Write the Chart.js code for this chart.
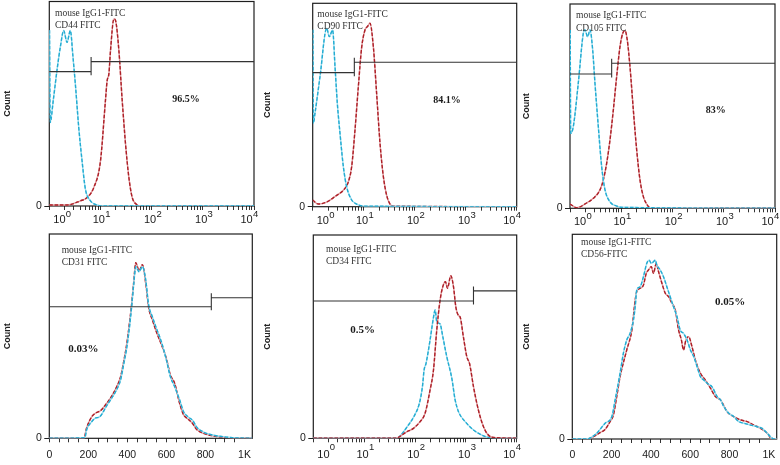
<!DOCTYPE html>
<html><head><meta charset="utf-8">
<script src="https://cdn.jsdelivr.net/npm/chart.js@4.4.1/dist/chart.umd.min.js"></script>
<style>
html,body{margin:0;padding:0;background:#fff;width:780px;height:465px;overflow:hidden;position:relative}
canvas{position:absolute}
</style></head><body>
<canvas id="c1"></canvas><canvas id="c2"></canvas><canvas id="c3"></canvas>
<canvas id="c4"></canvas><canvas id="c5"></canvas><canvas id="c6"></canvas>
<script>
// ---------- data ----------
const logTickExponents = ['0', '1', '2', '3', '4'];
const linTickValues = [0, 200, 400, 600, 800, 1000];
const linTickLabels = ['0', '200', '400', '600', '800', '1K'];
const yTickLabel = '0';

const panelTitles = [
  ['mouse IgG1-FITC', 'CD44 FITC'],
  ['mouse IgG1-FITC', 'CD90 FITC'],
  ['mouse IgG1-FITC', 'CD105 FITC'],
  ['mouse IgG1-FITC', 'CD31 FITC'],
  ['mouse IgG1-FITC', 'CD34 FITC'],
  ['mouse IgG1-FITC', 'CD56-FITC']
];
const percentLabels = ['96.5%', '84.1%', '83%', '0.03%', '0.5%', '0.05%'];

const gateX = [6.56, 6.55, 6.5, 830, 1413, null];
const gateLeftY = [65.7, 65.9, 65.7, 64.4, 67.5, null];
const gateRightY = [70.6, 71, 71, 68.8, 72.5, null];

// CD44 (log axis)
const cd44IsoX = [1.01, 1.04, 1.2, 1.41, 1.65, 1.91, 2.22, 2.58, 2.9, 3.24, 3.76, 4.37, 5.08, 6.37, 8.6, 10, 10000];
const cd44IsoY = [86, 40.8, 52, 66.2, 78, 85.8, 80, 85.8, 73, 59.2, 38.4, 22, 8.2, 2.5, 0.5, 0, 0];
const cd44PosX = [1, 2.22, 4.05, 5.48, 7.4, 10, 12.5, 13.5, 14.6, 15.7, 18.3, 19.7, 22.9, 26.6, 30.9, 35.9, 41.8, 52.4, 60.8, 10000];
const cd44PosY = [0.5, 0.5, 2.5, 4.1, 9.0, 22, 51.5, 61.3, 64.6, 76, 91.5, 90.7, 76, 51.5, 30.2, 13.9, 4.1, 0.5, 0, 0];

// CD90 (log axis)
const cd90IsoX = [1.01, 1.03, 1.11, 1.39, 1.88, 2.12, 2.46, 2.74, 3.04, 3.43, 3.99, 4.63, 5.81, 7.28, 9.84, 10000];
const cd90IsoY = [87, 41, 46, 63.9, 87.7, 83.6, 86.9, 68.8, 50.8, 36.1, 19.7, 9.8, 3.3, 1.3, 0.3, 0];
const cd90PosX = [1, 1.29, 1.88, 2.95, 3.99, 5.0, 5.81, 6.75, 7.85, 9.12, 10.6, 11.8, 13.3, 15.5, 18, 20.9, 24.3, 28.2, 32.8, 38.1, 10000];
const cd90PosY = [3.3, 1.3, 2.3, 5.6, 8.1, 12.2, 19.7, 37.7, 59, 78.3, 86.9, 88.5, 90.2, 78.3, 55, 31.1, 14.8, 5.6, 1.3, 0.3, 0];

// CD105 (log axis)
const cd105IsoX = [1.01, 1.03, 1.16, 1.45, 1.82, 1.96, 2.21, 2.46, 2.77, 3.07, 3.57, 4.15, 4.82, 6.03, 8.14, 9.46, 10000];
const cd105IsoY = [87.3, 36.7, 40, 61.2, 85.7, 87.3, 84, 87.3, 77.5, 61.2, 39.9, 20.4, 9, 3.2, 1.1, 0.5, 0];
const cd105PosX = [1, 1.35, 2.11, 2.85, 3.85, 4.47, 5.19, 6.03, 7.01, 8.14, 9.46, 10.7, 11.8, 13.1, 14.8, 17.2, 20, 23.2, 27, 31.3, 36.4, 10000];
const cd105PosY = [2.1, 0.3, 2.6, 4.9, 9, 13.9, 22, 33.5, 48.2, 64.5, 79.2, 85.7, 87, 82.4, 69.4, 48.2, 28.6, 13.9, 5.7, 2.1, 0.3, 0];

// CD31 (linear axis)
const cd31IsoX = [0, 182, 191, 217, 234, 259, 293, 319, 344, 365, 382, 395, 409, 421, 433, 443, 460, 477, 494, 509, 528, 549, 574, 600, 620, 642, 668, 688, 710, 736, 753, 787, 838, 889, 940, 1040];
const cd31IsoY = [0, 0.3, 4.1, 8.1, 9.8, 10.6, 15.8, 19.6, 23.6, 28.5, 36.7, 43.2, 53, 63.6, 75.9, 84, 81.5, 84, 77.5, 65.2, 59.5, 53.8, 47.3, 38.3, 30.2, 25.3, 18.7, 13, 10.6, 8.6, 5.7, 3.2, 1.6, 0.8, 0.3, 0];
const cd31PosX = [0, 178, 191, 217, 240, 262, 293, 319, 344, 365, 382, 395, 409, 421, 433, 443, 460, 477, 494, 509, 528, 549, 574, 600, 620, 642, 668, 688, 710, 736, 753, 787, 838, 889, 940, 1040];
const cd31PosY = [0, 0, 5, 10.5, 12.5, 13.5, 17, 20.5, 25, 30, 38, 45, 55, 65, 77, 86, 82, 85, 76, 64, 58, 52, 46, 39, 31, 27, 17, 11.5, 9.5, 7, 4.5, 2.5, 1.2, 0.5, 0, 0];

// CD34 (log axis)
const cd34IsoX = [1, 43.8, 54.9, 68.9, 93.1, 122, 140, 151, 165, 198, 231, 249, 268, 312, 352, 422, 530, 615, 716, 969, 1413, 2063, 3008, 10000];
const cd34IsoY = [0, 0, 2.1, 5.4, 10.3, 17.2, 25.4, 33.6, 36.9, 48.4, 59.5, 63.1, 57.4, 56.2, 50, 40.1, 29.5, 18.9, 13.1, 8.2, 4.1, 1.6, 0.3, 0];
const cd34PosX = [1, 40.6, 68.9, 93.1, 126, 158, 198, 231, 268, 312, 352, 397, 435, 506, 571, 635, 716, 772, 898, 1045, 1179, 1413, 1644, 1912, 2224, 2586, 3245, 10000];
const cd34PosY = [0, 0, 3.2, 4.9, 8.2, 12.3, 23.8, 33.6, 53.3, 68.1, 74.6, 77, 73.8, 80, 74.6, 64.7, 60.4, 59.6, 49.6, 40.1, 36.9, 25.4, 17.2, 10.6, 5.7, 2.5, 0.5, 0];

// CD56 (linear axis)
const cd56IsoX = [0, 73, 124, 167, 201, 218, 243, 260, 277, 294, 311, 320, 328, 345, 362, 379, 391, 402, 413, 422, 430, 447, 464, 481, 498, 515, 533, 549, 566, 584, 601, 618, 635, 652, 669, 686, 711, 737, 754, 771, 796, 822, 847, 873, 907, 941, 966, 992, 1009, 1026, 1040];
const cd56IsoY = [0, 0, 2.8, 7.7, 10.9, 19.1, 32.1, 41.9, 48.4, 51.6, 58.1, 64.6, 72.8, 74.4, 79.3, 85.8, 87.4, 85.8, 86.6, 87.4, 85, 82.6, 79.3, 74.4, 69.5, 64.6, 59.7, 53.2, 51.6, 48.4, 43.5, 40.2, 35.3, 30.4, 28.8, 27.2, 25.5, 20.7, 19.1, 15.8, 12.6, 10.9, 8.5, 7.7, 6.8, 6, 5.2, 2.8, 1, 0, 0];
const cd56PosX = [0, 73, 141, 167, 192, 209, 226, 243, 277, 303, 320, 328, 345, 362, 376, 388, 402, 413, 427, 439, 456, 473, 490, 507, 524, 541, 555, 566, 578, 592, 609, 626, 652, 677, 703, 728, 754, 788, 822, 856, 890, 924, 958, 992, 1017, 1040];
const cd56PosY = [0, 0, 3.1, 4.7, 8.5, 11.7, 20.7, 30.4, 43.5, 53.2, 67.9, 72, 73.6, 75.2, 80.9, 82.6, 84.2, 80.9, 85.8, 81.7, 76.1, 71.2, 69.5, 66.3, 63, 53.2, 48.4, 43.5, 48.4, 50, 45.1, 38.6, 32.1, 28.8, 24.8, 20.7, 19.1, 13.3, 10.9, 9.3, 8.5, 6.8, 5.2, 2.8, 0, 0];

// ---------- layout / style ----------
const ISO_COLOR = '#22acd2';
const ISO_LIGHT = '#9fdcee';
const POS_COLOR = '#ad1f27';
const POS_LIGHT = '#df9a9d';
const SANS = '"Liberation Sans", Arial, sans-serif';
const SERIF = '"Liberation Serif", "Times New Roman", serif';

const panels = [
  {id:'c1', left:0,   top:0,   w:260, h:232, area:[49.3,1.5,254,206],   log:true,  iso:[cd44IsoX,cd44IsoY],   pos:[cd44PosX,cd44PosY],   isoTop:true,
   titleAt:[55,13.5,25],   pctAt:[186,99],   pctSize:10, baseDy:14, expDy:8.5},
  {id:'c2', left:260, top:0,   w:262, h:232, area:[52.7,3.3,256.7,206.7], log:true, iso:[cd90IsoX,cd90IsoY],   pos:[cd90PosX,cd90PosY],   isoTop:true,
   titleAt:[57.3,14,26.7], pctAt:[187,100],  pctSize:10, baseDy:14, expDy:8.5},
  {id:'c3', left:519, top:0,   w:261, h:232, area:[51,4,256,208.3],     log:true,  iso:[cd105IsoX,cd105IsoY], pos:[cd105PosX,cd105PosY], isoTop:true,
   titleAt:[57,15,28.3],   pctAt:[196.7,110],pctSize:10, baseDy:14, expDy:8.5},
  {id:'c4', left:0,   top:230, w:260, h:235, area:[49.3,4,252.3,208.3], log:false, iso:[cd31IsoX,cd31IsoY],   pos:[cd31PosX,cd31PosY],   isoTop:true,
   titleAt:[61.7,20,32.3], pctAt:[83.3,119], pctSize:11, baseDy:16.5, expDy:9.5},
  {id:'c5', left:260, top:230, w:262, h:235, area:[53.3,5,256.7,208.3], log:true,  iso:[cd34IsoX,cd34IsoY],   pos:[cd34PosX,cd34PosY],   isoTop:false,
   titleAt:[66,19.3,31],   pctAt:[102.7,100],pctSize:11, baseDy:16.5, expDy:9.5},
  {id:'c6', left:519, top:230, w:261, h:235, area:[53.3,4.3,257.7,209], log:false, iso:[cd56IsoX,cd56IsoY],   pos:[cd56PosX,cd56PosY],   isoTop:true,
   titleAt:[62,12.7,24],   pctAt:[211,71.7], pctSize:11, baseDy:16.5, expDy:9.5}
];

const decoPlugin = {
  id: 'deco',
  beforeDatasetsDraw(chart) {
    const {ctx, chartArea: a} = chart;
    ctx.save();
    ctx.strokeStyle = '#1e1e1e';
    ctx.lineWidth = 1.2;
    ctx.strokeRect(a.left, a.top, a.right - a.left, a.bottom - a.top);
    ctx.restore();
  },
  afterDatasetsDraw(chart, args, o) {
    const {ctx, chartArea: a, scales: {x, y}} = chart;
    const i = o.index, p = panels[i];
    ctx.save();
    if (gateX[i] !== null) {
      const gx = x.getPixelForValue(gateX[i]);
      const yl = y.getPixelForValue(gateLeftY[i]);
      const yr = y.getPixelForValue(gateRightY[i]);
      ctx.strokeStyle = '#333';
      ctx.lineWidth = 1.1;
      ctx.beginPath();
      ctx.moveTo(a.left, yl); ctx.lineTo(gx, yl);
      ctx.moveTo(gx, yr); ctx.lineTo(a.right, yr);
      ctx.moveTo(gx, yr - 4.5); ctx.lineTo(gx, yl + 3.5);
      ctx.stroke();
    }
    ctx.fillStyle = '#333';
    ctx.textBaseline = 'middle';
    ctx.textAlign = 'left';
    ctx.font = '9.5px ' + SERIF;
    ctx.fillText(panelTitles[i][0], p.titleAt[0], p.titleAt[1]);
    ctx.fillText(panelTitles[i][1], p.titleAt[0], p.titleAt[2]);
    ctx.fillStyle = '#1a1a1a';
    ctx.textAlign = 'center';
    ctx.font = 'bold ' + p.pctSize + 'px ' + SERIF;
    ctx.fillText(percentLabels[i], p.pctAt[0], p.pctAt[1]);
    ctx.fillStyle = '#1a1a1a';
    if (p.log) {
      logTickExponents.forEach(e => {
        const px = x.getPixelForValue(Math.pow(10, Number(e)));
        ctx.font = '11px ' + SANS;
        const wb = ctx.measureText('10').width;
        ctx.font = '9.5px ' + SANS;
        const we = ctx.measureText(e).width;
        let lft = px + 1 - (wb + we) / 2;
        lft = Math.max(lft, a.left + 4);
        lft = Math.min(lft, a.right + 4 - wb - we);
        ctx.textAlign = 'left';
        ctx.font = '11px ' + SANS;
        ctx.fillText('10', lft, a.bottom + p.baseDy);
        ctx.font = '9.5px ' + SANS;
        ctx.fillText(e, lft + wb + 0.3, a.bottom + p.expDy);
      });
    } else {
      ctx.font = '10.5px ' + SANS;
      ctx.textAlign = 'center';
      linTickValues.forEach((v, k) => {
        ctx.fillText(linTickLabels[k], x.getPixelForValue(v), a.bottom + p.baseDy);
      });
    }
    ctx.font = '10.5px ' + SANS;
    ctx.textAlign = 'right';
    ctx.fillText(yTickLabel, a.left - 7.5, y.getPixelForValue(0));
    ctx.restore();
  }
};

function toPoints(xs, ys) { return xs.map((v, k) => ({x: v, y: ys[k]})); }

function logMinorTicks() {
  const t = [];
  logTickExponents.forEach(e => {
    const base = Math.pow(10, Number(e));
    if (Number(e) < 4) { for (let m = 1; m <= 9; m++) t.push({value: m * base, major: m === 1}); }
    else t.push({value: base, major: true});
  });
  return t;
}

panels.forEach((p, i) => {
  const cv = document.getElementById(p.id);
  cv.width = p.w; cv.height = p.h;
  cv.style.left = p.left + 'px'; cv.style.top = p.top + 'px';
  cv.style.width = p.w + 'px'; cv.style.height = p.h + 'px';
  const [L, T, R, B] = p.area;
  const base = {pointRadius: 0, fill: false, tension: 0.35, cubicInterpolationMode: 'monotone'};
  const isoData = toPoints(p.iso[0], p.iso[1]);
  const posData = toPoints(p.pos[0], p.pos[1]);
  const topIso = p.isoTop;
  const datasets = [
    Object.assign({label: 'isotype', data: isoData, borderColor: ISO_COLOR, borderWidth: 1.4, borderDash: [3.5, 1.8], order: topIso ? 0 : 2}, base),
    Object.assign({label: 'isotype-under', data: isoData, borderColor: ISO_LIGHT, borderWidth: 1.4, order: topIso ? 1 : 3}, base),
    Object.assign({label: 'marker', data: posData, borderColor: POS_COLOR, borderWidth: 1.4, borderDash: [3.5, 1.8], order: topIso ? 2 : 0}, base),
    Object.assign({label: 'marker-under', data: posData, borderColor: POS_LIGHT, borderWidth: 1.4, order: topIso ? 3 : 1}, base)
  ];
  const xScale = p.log ? {
      type: 'logarithmic', min: 1, max: 10000,
      afterBuildTicks: s => { s.ticks = logMinorTicks(); }
    } : {
      type: 'linear', min: 0, max: 1040,
      ticks: {stepSize: 50},
      afterBuildTicks: s => { s.ticks = s.ticks.filter(t => t.value % 50 === 0); }
    };
  Object.assign(xScale, {
    position: 'bottom',
    border: {display: false},
    grid: {display: true, drawOnChartArea: false, drawTicks: true, tickLength: 4, tickColor: '#333', lineWidth: 1},
    afterFit: s => { s.height = p.h - B; }
  });
  xScale.ticks = Object.assign({}, xScale.ticks || {}, {display: false});
  new Chart(cv, {
    type: 'line',
    data: {datasets: datasets},
    plugins: [decoPlugin],
    options: {
      responsive: false,
      devicePixelRatio: 1,
      animation: false,
      layout: {padding: {left: 0, top: T, right: p.w - R, bottom: 0}},
      plugins: {legend: {display: false}, tooltip: {enabled: false}, deco: {index: i}},
      scales: {
        x: xScale,
        y: {
          type: 'linear', min: 0, max: 100,
          border: {display: false},
          grid: {display: true, drawOnChartArea: false, drawTicks: true, tickLength: 5, tickColor: '#222', lineWidth: 1},
          ticks: {display: false},
          afterBuildTicks: s => { s.ticks = [{value: 0}]; },
          title: {display: true, text: 'Count', color: '#222', font: {family: SANS, size: 9, weight: 'bold'}, padding: {top: 2, bottom: 0}},
          afterFit: s => { s.width = L; }
        }
      }
    }
  });
});
</script>
</body></html>
